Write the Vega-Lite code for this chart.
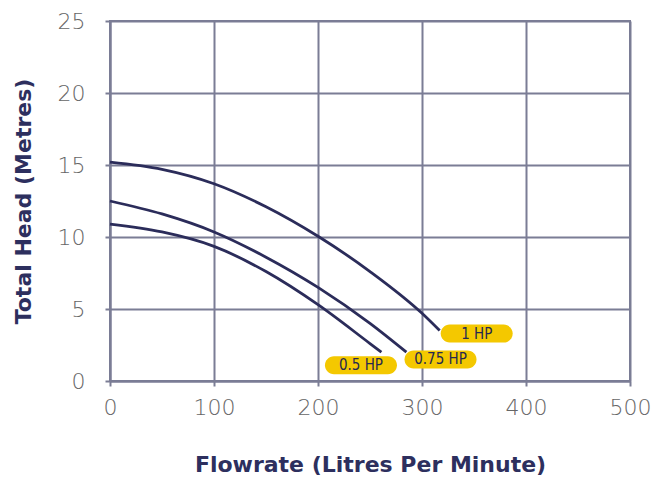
{
  "$schema": "https://vega.github.io/schema/vega-lite/v6.json",
  "width": 520,
  "height": 360,
  "autosize": {"type": "none"},
  "padding": {"left": 110, "top": 21, "right": 28, "bottom": 101},
  "background": "white",
  "config": {
    "view": {"stroke": "#7b7d95", "strokeWidth": 2},
    "font": "DejaVu Sans",
    "axis": {
      "grid": true,
      "gridColor": "#7b7d95",
      "gridWidth": 2,
      "gridOpacity": 1,
      "domainColor": "#7b7d95",
      "domainWidth": 2,
      "tickColor": "#7b7d95",
      "tickWidth": 2,
      "tickSize": 5,
      "labelFont": "DejaVu Sans",
      "labelFontWeight": 300,
      "labelFontSize": 22,
      "labelColor": "#666666",
      "labelFlush": false,
      "titleFont": "DejaVu Sans",
      "titleFontWeight": "bold",
      "titleFontSize": 22,
      "titleColor": "#2d2f5e"
    }
  },
  "datasets": {
    "curves": [
      {"series": "1 HP", "flow": 0, "head": 15.2},
      {"series": "1 HP", "flow": 50, "head": 14.7},
      {"series": "1 HP", "flow": 100, "head": 13.7},
      {"series": "1 HP", "flow": 150, "head": 12.1},
      {"series": "1 HP", "flow": 200, "head": 10.05},
      {"series": "1 HP", "flow": 250, "head": 7.6},
      {"series": "1 HP", "flow": 300, "head": 4.7},
      {"series": "1 HP", "flow": 317, "head": 3.5},
      {"series": "0.75 HP", "flow": 0, "head": 12.5},
      {"series": "0.75 HP", "flow": 50, "head": 11.6},
      {"series": "0.75 HP", "flow": 100, "head": 10.35},
      {"series": "0.75 HP", "flow": 150, "head": 8.6},
      {"series": "0.75 HP", "flow": 200, "head": 6.5},
      {"series": "0.75 HP", "flow": 250, "head": 4.0},
      {"series": "0.75 HP", "flow": 285, "head": 2.0},
      {"series": "0.5 HP", "flow": 0, "head": 10.9},
      {"series": "0.5 HP", "flow": 50, "head": 10.35},
      {"series": "0.5 HP", "flow": 100, "head": 9.35},
      {"series": "0.5 HP", "flow": 150, "head": 7.6},
      {"series": "0.5 HP", "flow": 200, "head": 5.3},
      {"series": "0.5 HP", "flow": 250, "head": 2.6},
      {"series": "0.5 HP", "flow": 261, "head": 2.0}
    ],
    "labels": [
      {"label": "1 HP", "flow": 352.6, "head": 3.29},
      {"label": "0.75 HP", "flow": 317.8, "head": 1.5},
      {"label": "0.5 HP", "flow": 241.3, "head": 1.09}
    ]
  },
  "layer": [
    {
      "data": {"name": "curves"},
      "mark": {"type": "line", "interpolate": "monotone", "color": "#2b2c5a", "strokeWidth": 2.8},
      "encoding": {
        "x": {
          "field": "flow",
          "type": "quantitative",
          "scale": {"domain": [0, 500], "nice": false},
          "axis": {"values": [0, 100, 200, 300, 400, 500], "labelPadding": 11, "title": "Flowrate (Litres Per Minute)", "titlePadding": 36}
        },
        "y": {
          "field": "head",
          "type": "quantitative",
          "scale": {"domain": [0, 25], "nice": false},
          "axis": {"values": [0, 5, 10, 15, 20, 25], "labelPadding": 20, "title": "Total Head (Metres)", "titlePadding": 22}
        },
        "detail": {"field": "series"}
      }
    },
    {
      "data": {"name": "labels"},
      "mark": {
        "type": "point",
        "shape": "M-3,-1H3A1,1,0,0,1,3,1H-3A1,1,0,0,1,-3,-1Z",
        "size": 324,
        "filled": true,
        "color": "#f4c800",
        "opacity": 1,
        "strokeWidth": 0
      },
      "encoding": {
        "x": {"field": "flow", "type": "quantitative"},
        "y": {"field": "head", "type": "quantitative"}
      }
    },
    {
      "data": {"name": "labels"},
      "mark": {"type": "text", "font": "DejaVu Sans Condensed", "fontSize": 15, "color": "#262850", "align": "center", "baseline": "middle"},
      "encoding": {
        "x": {"field": "flow", "type": "quantitative"},
        "y": {"field": "head", "type": "quantitative"},
        "text": {"field": "label"}
      }
    }
  ]
}
